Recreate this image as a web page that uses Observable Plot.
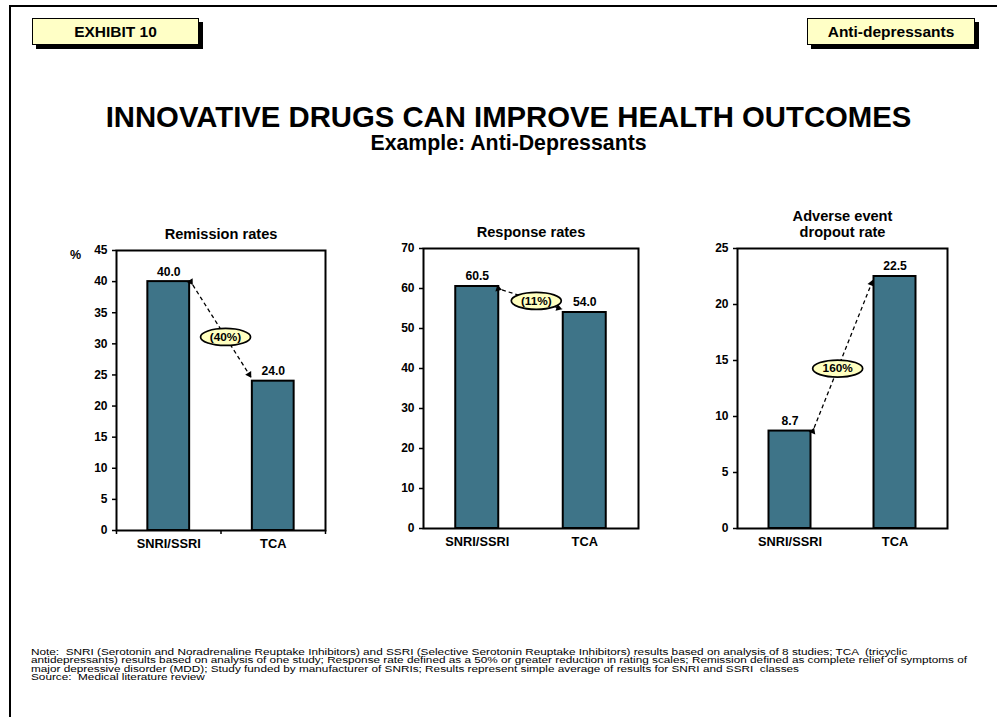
<!DOCTYPE html>
<html>
<head>
<meta charset="utf-8">
<script src="https://cdn.jsdelivr.net/npm/d3@7"></script>
<script src="https://cdn.jsdelivr.net/npm/@observablehq/plot@0.6"></script>
<style>
  body { margin: 0; background: #fff; font-family: "Liberation Sans", Arial, sans-serif; color: #000; }
  #page { position: relative; width: 997px; height: 717px; overflow: hidden; background: #fff; }
  .rule { position: absolute; background: #000; }
  .tag {
    position: absolute; top: 18px; height: 27px; box-sizing: border-box;
    border: 1.5px solid #000; background: #ffffc6; box-shadow: 4px 4px 0 #000;
    font-weight: bold; font-size: 15.5px; display: flex; align-items: center; justify-content: center;
  }
  .headline { position: absolute; left: 20px; width: 977px; text-align: center; font-weight: bold; white-space: nowrap; }
  .panel { position: absolute; top: 200px; }
  #notes {
    position: absolute; left: 31px; top: 648px; font-size: 9.2px; line-height: 8.3px; white-space: pre;
    transform: scaleX(1.28); transform-origin: 0 0;
  }
</style>
</head>
<body>
<div id="page">
  <div class="rule" style="left:9px;top:5px;width:988px;height:2px"></div>
  <div class="rule" style="left:9px;top:5px;width:2px;height:712px"></div>
  <div class="tag" style="left:32px;width:167px">EXHIBIT 10</div>
  <div class="tag" style="left:807px;width:168px">Anti-depressants</div>
  <div class="headline" style="top:100px;font-size:29.3px;line-height:34px">INNOVATIVE DRUGS CAN IMPROVE HEALTH OUTCOMES</div>
  <div class="headline" style="top:131px;font-size:21.3px;line-height:24px">Example: Anti-Depressants</div>
  <div id="p1" class="panel" style="left:40px"></div>
  <div id="p2" class="panel" style="left:350px"></div>
  <div id="p3" class="panel" style="left:660px"></div>
  <div id="notes"></div>
</div>
<script>
// Treatment classes compared in every panel
const categories = ["SNRI/SSRI", "TCA"];

// Panel values (percent)
const remissionRates = [40.0, 24.0];
const responseRates = [60.5, 54.0];
const dropoutRates = [8.7, 22.5];

// Relative change between the two classes, as printed in the badges
const changeLabels = ["(40%)", "(11%)", "160%"];

// Panel titles and y-axis extents
const panelTitles = ["Remission rates", "Response rates", "Adverse event\ndropout rate"];
const yMaxima = [45, 70, 25];
const yTickSteps = [5, 10, 5];

const noteLines = [
  "Note:  SNRI (Serotonin and Noradrenaline Reuptake Inhibitors) and SSRI (Selective Serotonin Reuptake Inhibitors) results based on analysis of 8 studies; TCA  (tricyclic",
  "antidepressants) results based on analysis of one study; Response rate defined as a 50% or greater reduction in rating scales; Remission defined as complete relief of symptoms of",
  "major depressive disorder (MDD); Study funded by manufacturer of SNRIs; Results represent simple average of results for SNRI and SSRI  classes",
  "Source:  Medical literature review"
];

document.getElementById("notes").textContent = noteLines.join("\n");

const BAR = "#3e7488";
const HALF = 0.2; // half bar width, in category units

// Flattened ellipse used for the change badges
const ellipse = {
  draw(ctx, size) {
    const rx = Math.sqrt(size / Math.PI), ry = rx * 0.34;
    const kx = rx * 0.5523, ky = ry * 0.5523;
    ctx.moveTo(rx, 0);
    ctx.bezierCurveTo(rx, ky, kx, ry, 0, ry);
    ctx.bezierCurveTo(-kx, ry, -rx, ky, -rx, 0);
    ctx.bezierCurveTo(-rx, -ky, -kx, -ry, 0, -ry);
    ctx.bezierCurveTo(kx, -ry, rx, -ky, rx, 0);
    ctx.closePath();
  }
};

// Turn the connector's open arrow markers into small solid heads
function solidHeads(svg) {
  svg.querySelectorAll("marker").forEach((m) => {
    m.setAttribute("markerWidth", 9);
    m.setAttribute("markerHeight", 9);
    m.setAttribute("overflow", "visible");
  });
  svg.querySelectorAll("marker path").forEach((p) => {
    p.setAttribute("d", "M-5,-3L0,0L-5,3Z");
    p.setAttribute("fill", "#000");
    p.setAttribute("stroke", "none");
  });
  return svg;
}

function panel({values, ymax, step, title, change, badgeAt, unit, boundaryTicks, margins}) {
  const rows = categories.map((c, i) => ({i, cat: c, v: values[i]}));
  const [a, b] = rows;
  const dir = Math.sign(b.v - a.v);
  const gap = ymax * 0.012;
  const link = {
    x1: a.i + HALF + 0.03, y1: a.v + dir * gap,
    x2: b.i - HALF - 0.01, y2: b.v - dir * gap
  };
  const badge = {
    x: link.x1 + (link.x2 - link.x1) * badgeAt,
    y: link.y1 + (link.y2 - link.y1) * badgeAt,
    text: change
  };
  const marks = [
    Plot.rectY(rows, {x1: d => d.i - HALF, x2: d => d.i + HALF, y1: 0, y2: "v", fill: BAR, stroke: "#000", strokeWidth: 2}),
    Plot.frame({stroke: "#000", strokeWidth: 2}),
    Plot.axisY({ticks: d3.range(0, ymax + step / 2, step), tickSize: 4, tickPadding: 5, strokeWidth: 1.5, fontSize: 12, label: null}),
    Plot.text(rows, {x: "i", frameAnchor: "bottom", dy: 17, text: "cat", fontSize: 12.8}),
    Plot.text(rows, {x: "i", y: "v", dy: -10, text: d => d.v.toFixed(1), fontSize: 12.2}),
    Plot.text([title], {frameAnchor: "top", dy: -12, lineAnchor: "bottom", lineHeight: 1.08, fontSize: 14.6}),
    Plot.link([link], {x1: "x1", y1: "y1", x2: "x2", y2: "y2", stroke: "#000", strokeWidth: 1.3, strokeDasharray: "4,3", markerStart: "arrow", markerEnd: "arrow"}),
    Plot.dot([badge], {x: "x", y: "y", r: 25, symbol: ellipse, fill: "#ffffc0", stroke: "#000", strokeWidth: 1.7}),
    Plot.text([badge], {x: "x", y: "y", text: "text", fontSize: 11.8})
  ];
  if (boundaryTicks) {
    marks.push(Plot.axisX({ticks: [-0.5, 0.5, 1.5], tickFormat: () => "", tickSize: 4, strokeWidth: 1.5}));
  }
  if (unit) {
    marks.push(Plot.text([unit], {frameAnchor: "top-left", dx: -41, textAnchor: "middle", fontSize: 12.5}));
  }
  return solidHeads(Plot.plot({
    width: 300,
    height: 370,
    ...margins,
    x: {domain: [-0.5, 1.5], axis: null},
    y: {domain: [0, ymax], axis: null},
    style: {fontFamily: "'Liberation Sans', Arial, sans-serif", fontWeight: "bold", color: "#000", background: "transparent", overflow: "visible"},
    marks
  }));
}

document.getElementById("p1").append(panel({
  values: remissionRates, ymax: yMaxima[0], step: yTickSteps[0], title: panelTitles[0],
  change: changeLabels[0], badgeAt: 0.56, unit: "%", boundaryTicks: true,
  margins: {marginLeft: 76, marginRight: 15, marginTop: 50, marginBottom: 40}
}));
document.getElementById("p2").append(panel({
  values: responseRates, ymax: yMaxima[1], step: yTickSteps[1], title: panelTitles[1],
  change: changeLabels[1], badgeAt: 0.57, unit: null, boundaryTicks: false,
  margins: {marginLeft: 73, marginRight: 12, marginTop: 48, marginBottom: 42}
}));
document.getElementById("p3").append(panel({
  values: dropoutRates, ymax: yMaxima[2], step: yTickSteps[2], title: panelTitles[2],
  change: changeLabels[2], badgeAt: 0.4, unit: null, boundaryTicks: false,
  margins: {marginLeft: 77, marginRight: 13, marginTop: 48, marginBottom: 42}
}));
</script>
</body>
</html>
